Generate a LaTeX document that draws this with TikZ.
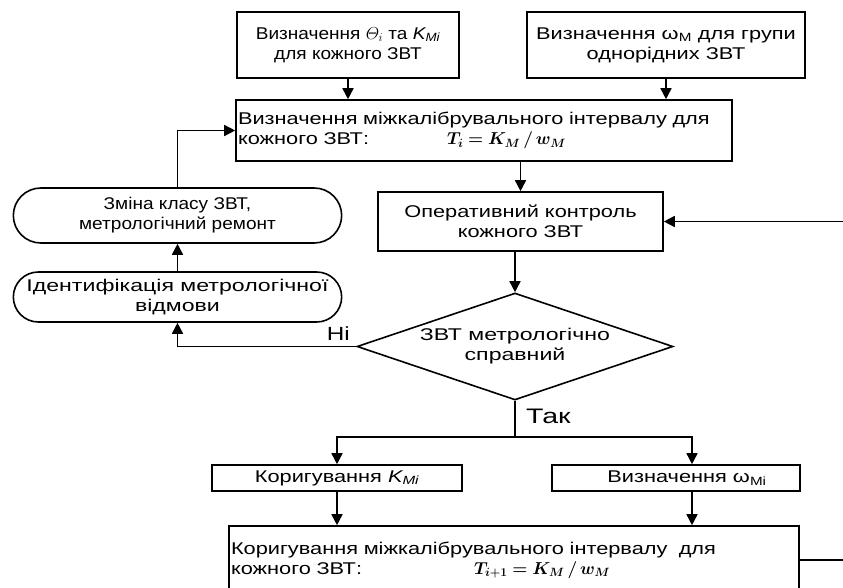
\documentclass[tikz,border=0pt]{standalone}
\usepackage{fontspec}
\setmainfont{Liberation Sans}[FakeStretch=1.12]
\newfontfamily\widefont{Liberation Sans}[FakeStretch=1.28]
\newfontfamily\widerfont{Liberation Sans}[FakeStretch=1.36]
\usepackage{amsmath}
\usepackage{bm}
\usetikzlibrary{shapes.geometric,shapes.misc,arrows.meta}
\tikzstyle{block} = [rectangle, draw, text centered, inner sep=4pt,
    font=\widefont\fontsize{17}{20}\selectfont]
\tikzstyle{oval} = [rounded rectangle, draw, text centered, minimum width=335pt]
\tikzstyle{decision} = [diamond, draw, shape aspect=3, inner sep=0pt,
    minimum width=316pt, minimum height=107pt, text centered,
    font=\widerfont\fontsize{17}{20}\selectfont]
\tikzstyle{line} = [draw, -{Triangle[length=11pt,width=11pt]}]

\begin{document}
\begin{tikzpicture}[x=1pt, y=-1pt, line width=1.6pt,
		font=\fontsize{17}{20}\selectfont, align=center]
		\useasboundingbox (0,0) rectangle (843,588);
		\node [block, font=\fontsize{17}{20}\selectfont, minimum width=222pt, minimum height=66pt] (theta) at (348,45)
			{Визначення $\varTheta_i$ та \textit{K\textsubscript{Mi}}\\для кожного ЗВТ};
		\node [block, minimum width=278pt, minimum height=66pt] (omega) at (666,45)
			{Визначення ω\textsubscript{M} для групи\\однорідних ЗВТ};
		\node [block, minimum height=61pt, text width=492pt, align=left, inner sep=2pt] (interval) at (484,130.5)
			{Визначення міжкалібрувального інтервалу для\\кожного ЗВТ:\hspace{78pt}$\bm{T_i = K_M \,/\, w_M}$};
		\node [block, minimum width=285pt, minimum height=59pt] (control) at (520.5,221.5)
			{Оперативний контроль\\кожного ЗВТ};
		\node [decision] (check) at (515,346.5) {ЗВТ метрологічно\\справний};
		\node [oval, minimum height=55pt] (repair) at (177.5,215.5)
			{Зміна класу ЗВТ,\\метрологічний ремонт};
		\node [oval, font=\widerfont\fontsize{17}{20}\selectfont, minimum height=50pt] (fault) at (177.5,297)
			{Ідентифікація метрологічної\\відмови};
		\node [block, minimum width=250pt, minimum height=26pt, inner sep=2pt] (korig) at (337,478)
			{Коригування \textit{K\textsubscript{Mi}}};
		\node [block, minimum width=248pt, minimum height=26pt, inner sep=2pt] (omegai) at (676,478)
			{\hspace*{22pt}Визначення ω\textsubscript{Mi}};
		\node [block, minimum height=68pt, text width=566pt, align=left, inner sep=2pt] (newint) at (514,560)
			{Коригування міжкалібрувального інтервалу~ для\\кожного ЗВТ:\hspace{112pt}$\bm{T_{i+1} = K_M \,/\, w_M}$};
		\coordinate (split) at (515,437);

		\path [line] (theta.south) -- (theta.south |- interval.north);
		\path [line] (omega.south) -- (omega.south |- interval.north);
		\path [line] (control.north |- interval.south) -- (control.north);
		\path [line] (check.north |- control.south) -- (check.north);
		\path [line] (check.west) -| node [above, pos=0.05, yshift=2pt, font=\widefont\fontsize{19}{20}\selectfont] {Ні} (fault.south);
		\path [line] (fault.north) -- (repair.south);
		\path [line] (repair.north) |- (interval.west);
		\path [draw] (check.south) -- node [right, pos=0.42, xshift=7pt, font=\widerfont\fontsize{21}{22}\selectfont] {Так} (split);
		\path [line] (split) -| (korig.north);
		\path [line] (split) -| ([xshift=16pt]omegai.north);
		\path [line] (korig.south) -- (korig.south |- newint.north);
		\path [line] ([xshift=16pt]omegai.south) -- ([xshift=16pt]omegai.south |- newint.north);
		\path [line] (newint.east) -- ++(60,0) |- (control.east);
	\end{tikzpicture}
\end{document}
